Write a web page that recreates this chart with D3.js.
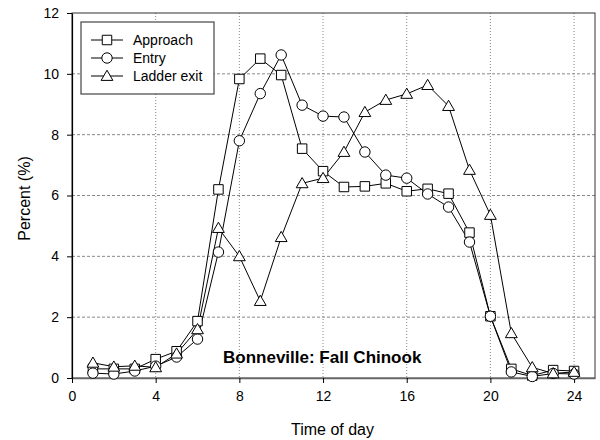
<!DOCTYPE html>
<html>
<head>
<meta charset="utf-8">
<script src="https://cdn.jsdelivr.net/npm/d3@7.9.0/dist/d3.min.js"></script>
<style>
  body { margin: 0; background: #fff; }
  svg { font-family: "Liberation Sans", Arial, sans-serif; }
</style>
</head>
<body>
<div id="chart"></div>
<script>
const hours = [1, 2, 3, 4, 5, 6, 7, 8, 9, 10, 11, 12, 13, 14, 15, 16, 17, 18, 19, 20, 21, 22, 23, 24];
const approach = [0.3, 0.3, 0.3, 0.62, 0.88, 1.87, 6.2, 9.83, 10.5, 9.96, 7.54, 6.8, 6.28, 6.3, 6.4, 6.14, 6.22, 6.06, 4.78, 2.03, 0.3, 0.08, 0.26, 0.23];
const entry = [0.16, 0.13, 0.23, 0.39, 0.69, 1.28, 4.14, 7.8, 9.35, 10.62, 8.97, 8.61, 8.58, 7.43, 6.67, 6.57, 6.05, 5.62, 4.47, 2.03, 0.2, 0.05, 0.15, 0.13];
const ladderExit = [0.5, 0.37, 0.4, 0.35, 0.8, 1.6, 4.93, 4.0, 2.53, 4.63, 6.4, 6.57, 7.43, 8.74, 9.14, 9.34, 9.63, 8.94, 6.84, 5.36, 1.47, 0.35, 0.15, 0.2];
const seriesNames = ['Approach', 'Entry', 'Ladder exit'];
const seriesShapes = ['square', 'circle', 'triangle'];
const xTicks = [0, 4, 8, 12, 16, 20, 24];
const yTicks = [0, 2, 4, 6, 8, 10, 12];
const annotation = 'Bonneville: Fall Chinook';

const width = 600, height = 440;
const margin = { top: 13, right: 5, bottom: 62, left: 72 };
const plotRight = width - margin.right;
const plotBottom = height - margin.bottom;

const svg = d3.select('#chart').append('svg')
  .attr('width', width).attr('height', height);

const x = d3.scaleLinear().domain([0, 25]).range([margin.left, plotRight]);
const y = d3.scaleLinear().domain([0, 12]).range([plotBottom, margin.top]);

// gridlines
svg.append('g').selectAll('line')
  .data(yTicks.filter(d => d > 0 && d < 12))
  .join('line')
  .attr('x1', margin.left).attr('x2', plotRight)
  .attr('y1', d => y(d)).attr('y2', d => y(d))
  .attr('stroke', '#888').attr('stroke-width', 1)
  .attr('stroke-dasharray', '3,2');

svg.append('g').selectAll('line')
  .data(xTicks.filter(d => d > 0))
  .join('line')
  .attr('x1', d => x(d)).attr('x2', d => x(d))
  .attr('y1', margin.top).attr('y2', plotBottom)
  .attr('stroke', '#888').attr('stroke-width', 1)
  .attr('stroke-dasharray', '1,2');

// frame
svg.append('rect')
  .attr('x', margin.left).attr('y', margin.top)
  .attr('width', plotRight - margin.left).attr('height', plotBottom - margin.top)
  .attr('fill', 'none').attr('stroke', '#333').attr('stroke-width', 1);

// axes
const xAxis = svg.append('g')
  .attr('transform', `translate(0,${plotBottom})`)
  .call(d3.axisBottom(x).tickValues(xTicks).tickSize(5).tickPadding(8).tickSizeOuter(0));
xAxis.select('.domain').attr('stroke', '#666').attr('stroke-width', 1.5);
xAxis.selectAll('.tick line').attr('stroke', '#000');

const yAxis = svg.append('g')
  .attr('transform', `translate(${margin.left},0)`)
  .call(d3.axisLeft(y).tickValues(yTicks).tickSize(5).tickPadding(8).tickSizeOuter(0));
yAxis.select('.domain').attr('stroke', '#000').attr('stroke-width', 1.2);

svg.selectAll('.tick text').attr('font-size', 14).attr('fill', '#000')
  .attr('font-family', '"Liberation Sans", Arial, sans-serif');

// axis titles
svg.append('text')
  .attr('x', (margin.left + plotRight) / 2 - 1).attr('y', 435)
  .attr('text-anchor', 'middle').attr('font-size', 16)
  .text('Time of day');

svg.append('text')
  .attr('transform', `translate(30,${y(6) + 3}) rotate(-90)`)
  .attr('text-anchor', 'middle').attr('font-size', 16)
  .text('Percent (%)');

// series
const allSeries = [approach, entry, ladderExit];
const line = d3.line().x((d, i) => x(hours[i])).y(d => y(d));

const symbolFor = {
  square: d3.symbol().type(d3.symbolSquare).size(90),
  circle: d3.symbol().type(d3.symbolCircle).size(85),
  triangle: d3.symbol().type(d3.symbolTriangle).size(60)
};

allSeries.forEach((vals, s) => {
  svg.append('path')
    .datum(vals)
    .attr('d', line)
    .attr('fill', 'none').attr('stroke', '#000').attr('stroke-width', 1);
});

allSeries.forEach((vals, s) => {
  svg.append('g').selectAll('path')
    .data(vals)
    .join('path')
    .attr('transform', (d, i) => `translate(${x(hours[i])},${y(d) + (seriesShapes[s] === 'triangle' ? 1 : 0)})`)
    .attr('d', symbolFor[seriesShapes[s]]())
    .attr('fill', '#fff').attr('stroke', '#000').attr('stroke-width', 1);
});

// legend
const legend = svg.append('g');
legend.append('rect')
  .attr('x', 81).attr('y', 22).attr('width', 133).attr('height', 72)
  .attr('fill', '#fff').attr('stroke', '#444').attr('stroke-width', 1.2);

seriesNames.forEach((name, i) => {
  const cy = 40 + i * 18;
  legend.append('line')
    .attr('x1', 91).attr('x2', 123).attr('y1', cy).attr('y2', cy)
    .attr('stroke', '#000');
  legend.append('path')
    .attr('transform', `translate(107,${cy + (seriesShapes[i] === 'triangle' ? 1 : 0)})`)
    .attr('d', symbolFor[seriesShapes[i]]())
    .attr('fill', '#fff').attr('stroke', '#000');
  legend.append('text')
    .attr('x', 133).attr('y', cy + 5)
    .attr('font-size', 14)
    .text(name);
});

// annotation
svg.append('text')
  .attr('x', 223).attr('y', 363)
  .attr('font-size', 17).attr('font-weight', 'bold')
  .text(annotation);
</script>
</body>
</html>
